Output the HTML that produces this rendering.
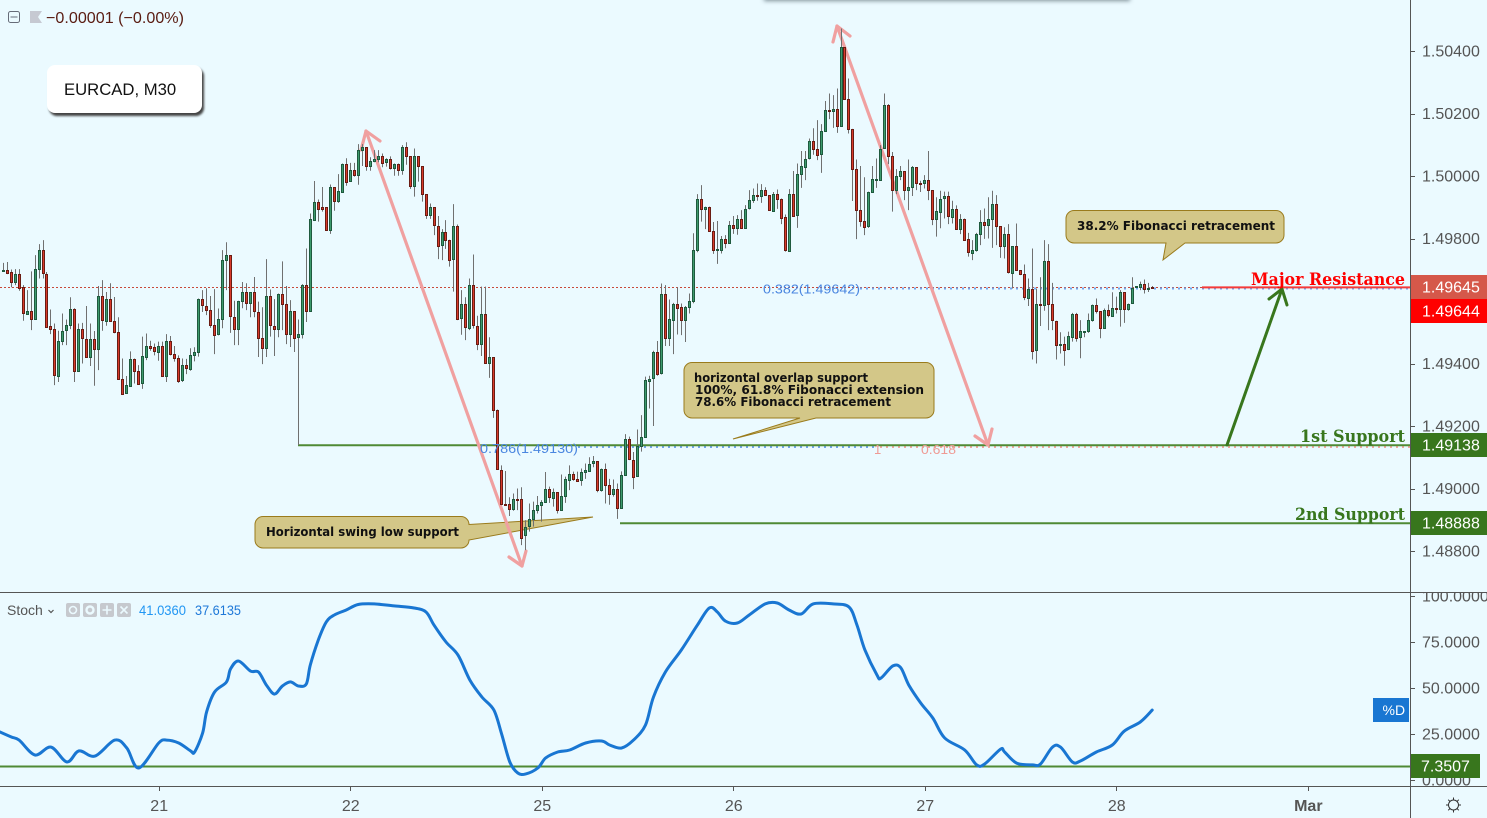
<!DOCTYPE html>
<html lang="en">
<head>
<meta charset="utf-8">
<title>EURCAD, M30</title>
<style>
html,body{margin:0;padding:0;background:#ebfaff;width:1487px;height:818px;overflow:hidden}
#chart{position:absolute;left:0;top:0;display:block}
#symbol-box{position:absolute;left:47px;top:65px;width:155px;height:48px;background:#fff;border-radius:8px;box-shadow:2px 3px 2px #444;font:16.7px/49px "Liberation Sans",sans-serif;color:#111;text-indent:17px}
#top-strip{position:absolute;left:764px;top:-10px;width:366px;height:10px;background:#fff;box-shadow:0 1px 4px rgba(40,60,70,.55)}
</style>
</head>
<body>
<svg id="chart" width="1487" height="818" viewBox="0 0 1487 818" xmlns="http://www.w3.org/2000/svg" font-family="Liberation Sans, sans-serif">
  <rect x="0" y="0" width="1487" height="818" fill="#ebfaff"/>

  <g>
    <path d="M263 516.5H461a8 8 0 0 1 8 8L593 517L469 540a8 8 0 0 1-8 8H263a8 8 0 0 1-8-8V524.5a8 8 0 0 1 8-8Z" fill="#d3c788" stroke="#9a7b1c" stroke-width="1"/>
    <text x="266" y="536" font-family="DejaVu Sans, sans-serif" font-weight="bold" font-size="12.5" fill="#111" textLength="193" lengthAdjust="spacingAndGlyphs">Horizontal swing low support</text>
  </g>
  <g id="price-lines">
    <line x1="0" y1="287.5" x2="1410" y2="287.5" stroke="#c8493a" stroke-width="1" stroke-dasharray="2 2"/>
    <line x1="860" y1="288.5" x2="1410" y2="288.5" stroke="#6fa3ec" stroke-width="2" stroke-dasharray="2 4"/>
    <line x1="578" y1="447" x2="875" y2="447" stroke="#6fa3ec" stroke-width="2" stroke-dasharray="2 4"/>
    <line x1="880" y1="447" x2="1410" y2="447" stroke="#f0a6a0" stroke-width="2" stroke-dasharray="2 4"/>
    <line x1="298" y1="445.2" x2="1410" y2="445.2" stroke="#4f8a35" stroke-width="2"/>
    <line x1="620" y1="523.2" x2="1410" y2="523.2" stroke="#4f8a35" stroke-width="2"/>
    <line x1="1202" y1="287.4" x2="1410" y2="287.4" stroke="#f53a3a" stroke-width="2"/>
  </g>
  <g fill="none" stroke="#f0a0a0" stroke-width="3.2" stroke-linecap="round" stroke-linejoin="round">
    <g>
      <line x1="366" y1="131" x2="522" y2="566"/>
      <polyline points="361,150 366,131 380,141"/>
      <polyline points="509,557 522,566 526,551"/>
    </g>
    <g>
      <line x1="837" y1="26" x2="988" y2="445"/>
      <polyline points="833,42 837,26 850,36"/>
      <polyline points="975,436 988,445 992,429"/>
    </g>
  </g>
  <g id="candles"></g>

  <g fill="none" stroke="#38761d" stroke-width="3" stroke-linecap="round" stroke-linejoin="round">
    <line x1="1227" y1="445" x2="1282" y2="289"/>
    <polyline points="1269,299 1282,289 1287,305"/>
  </g>

  <g font-size="13">
    <text x="763" y="293.5" fill="#4a86e0" textLength="97" lengthAdjust="spacingAndGlyphs">0.382(1.49642)</text>
    <text x="480" y="453" fill="#4a86e0" textLength="98" lengthAdjust="spacingAndGlyphs">0.786(1.49130)</text>
    <text x="874" y="454" fill="#ef9a94">1</text>
    <text x="921" y="454" fill="#ef9a94" textLength="35" lengthAdjust="spacingAndGlyphs">0.618</text>
  </g>

  <g>
    <path d="M1074 210.5H1276a8 8 0 0 1 8 8V235a8 8 0 0 1-8 8H1185L1163 260L1166 243H1074a8 8 0 0 1-8-8V218.5a8 8 0 0 1 8-8Z" fill="#d3c788" stroke="#9a7b1c" stroke-width="1"/>
    <text x="1077" y="230" font-family="DejaVu Sans, sans-serif" font-weight="bold" font-size="12.5" fill="#111" textLength="198" lengthAdjust="spacingAndGlyphs">38.2% Fibonacci retracement</text>
  </g>
  <g>
    <path d="M692 362.5H926a8 8 0 0 1 8 8V410a8 8 0 0 1-8 8H816L733 439L800 418H692a8 8 0 0 1-8-8V370.5a8 8 0 0 1 8-8Z" fill="#d3c788" stroke="#9a7b1c" stroke-width="1"/>
    <g font-family="DejaVu Sans, sans-serif" font-weight="bold" font-size="12.5" fill="#111">
      <text x="694" y="382" textLength="174" lengthAdjust="spacingAndGlyphs">horizontal overlap support</text>
      <text x="695" y="394" textLength="229" lengthAdjust="spacingAndGlyphs">100%, 61.8% Fibonacci extension</text>
      <text x="695" y="406" textLength="196" lengthAdjust="spacingAndGlyphs">78.6% Fibonacci retracement</text>
    </g>
  </g>

  <g font-family="DejaVu Serif, Liberation Serif, serif" font-weight="bold" font-size="17">
    <text x="1251" y="285" fill="#ff0000" textLength="154" lengthAdjust="spacingAndGlyphs">Major Resistance</text>
    <text x="1300" y="442" fill="#38761d" textLength="105" lengthAdjust="spacingAndGlyphs">1st Support</text>
    <text x="1295" y="520" fill="#38761d" textLength="110" lengthAdjust="spacingAndGlyphs">2nd Support</text>
  </g>

  <g>
    <rect x="8.5" y="11.5" width="11" height="11" rx="2" fill="none" stroke="#666c78"/>
    <line x1="10.5" y1="17" x2="17.5" y2="17" stroke="#666c78"/>
    <path d="M30 11H42L38 17L42 23H30Z" fill="#c6c9d2"/>
    <text x="46" y="23" font-size="16" fill="#5a1c12" textLength="138" lengthAdjust="spacingAndGlyphs">−0.00001 (−0.00%)</text>
  </g>

  <line x1="0" y1="592.5" x2="1487" y2="592.5" stroke="#555"/>
  <line x1="0" y1="786.5" x2="1487" y2="786.5" stroke="#555"/>
  <line x1="1410.5" y1="0" x2="1410.5" y2="818" stroke="#555"/>

  <line x1="0" y1="766.5" x2="1410" y2="766.5" stroke="#4f8a35" stroke-width="2"/>
  <path id="stoch-line" fill="none" stroke="#1976d2" stroke-width="3" stroke-linejoin="round" stroke-linecap="round"/>

  <g>
    <text x="7" y="615" font-size="14" fill="#555">Stoch</text>
    <polyline points="48.5,610 51,612.5 53.5,610" fill="none" stroke="#555" stroke-width="1.2"/>
    <g fill="#c6c9ce">
      <rect x="66" y="603" width="14" height="14" rx="2"/>
      <rect x="83" y="603" width="14" height="14" rx="2"/>
      <rect x="100" y="603" width="14" height="14" rx="2"/>
      <rect x="117" y="603" width="14" height="14" rx="2"/>
    </g>
    <g fill="none" stroke="#ebfaff" stroke-width="1.6">
      <circle cx="73" cy="610" r="3.5"/>
      <circle cx="90" cy="610" r="3.5" stroke-width="2.4"/>
      <path d="M107 605.5V614.5M102.5 610H111.5"/>
      <path d="M120.5 606.5L127.5 613.5M127.5 606.5L120.5 613.5"/>
    </g>
    <text x="139" y="615" font-size="13.5" fill="#2196f3" textLength="47" lengthAdjust="spacingAndGlyphs">41.0360</text>
    <text x="195" y="615" font-size="13.5" fill="#1e78d8" textLength="46" lengthAdjust="spacingAndGlyphs">37.6135</text>
  </g>

  <g id="price-axis" font-size="16" fill="#555"></g>
  <clipPath id="stoch-clip"><rect x="1411" y="593" width="76" height="193"/></clipPath>
  <g id="stoch-axis" font-size="16" fill="#555" clip-path="url(#stoch-clip)"></g>
  <g id="time-axis" font-size="16" fill="#555"></g>

  <g>
    <rect x="1411" y="275" width="76" height="24" fill="#d5584a"/>
    <text x="1422" y="292.5" font-size="16" fill="#fff">1.49645</text>
    <rect x="1411" y="299" width="76" height="24" fill="#ff0000"/>
    <text x="1422" y="316.5" font-size="16" fill="#fff">1.49644</text>
    <rect x="1411" y="433" width="76" height="24" fill="#38761d"/>
    <text x="1422" y="450.5" font-size="16" fill="#fff">1.49138</text>
    <rect x="1411" y="511" width="76" height="24" fill="#38761d"/>
    <text x="1422" y="528.5" font-size="16" fill="#fff">1.48888</text>
    <rect x="1411" y="754" width="69" height="24" fill="#38761d"/>
    <text x="1421" y="771.5" font-size="16" fill="#fff">7.3507</text>
    <rect x="1373" y="698" width="36" height="24" fill="#1976d2"/>
    <text x="1382.5" y="715" font-size="14" fill="#fff">%D</text>
  </g>

  <g fill="none" stroke="#333" stroke-width="1">
    <circle cx="1453.5" cy="805" r="5"/>
    <path d="M1453.5 797.5V800M1453.5 810V812.5M1446 805H1448.5M1458.5 805H1461M1448.2 799.7L1450 801.5M1457 808.5L1458.8 810.3M1458.8 799.7L1457 801.5M1450 808.5L1448.2 810.3"/>
  </g>
</svg>
<div id="top-strip"></div>
<div id="symbol-box">EURCAD, M30</div>

<script>
// OHLC values in price points (1 point = 0.00001)
const opens = [149697,149698,149693,149662,149688,149644,149559,149567,149541,149701,
149762,149688,149519,149509,149362,149473,149505,149522,149573,149374,
149509,149480,149422,149480,149447,149615,149537,149608,149537,149502,
149351,149304,149330,149416,149377,149336,149423,149457,149452,149438,
149457,149362,149473,149430,149418,149345,149394,149383,149428,149436,
149605,149585,149572,149524,149492,149541,149730,149746,149550,149511,
149599,149628,149594,149628,149566,149482,149450,149615,149521,149511,
149624,149591,149495,149567,149482,149493,149650,149566,149860,149916,
149900,149900,149828,149964,149918,149951,150040,149982,150018,150001,
150082,150092,150030,150047,150053,150063,150042,150053,150023,150037,
150018,150092,150063,149966,150063,150031,149941,149873,149900,149841,
149777,149820,149796,149732,149839,149543,149589,149514,149650,149521,
149463,149560,149402,149420,149250,149060,148951,148949,148932,148966,
148965,148851,148878,148901,148929,148945,148956,148997,148970,148988,
148929,148975,149029,149048,149032,149025,149052,149059,149080,149087,
148993,149061,149010,148980,148997,148935,149042,149157,149092,149038,
149135,149164,149346,149352,149436,149367,149621,149479,149541,149592,
149580,149537,149580,149600,149761,149925,149893,149900,149823,149762,
149764,149800,149786,149842,149834,149864,149834,149896,149922,149938,
149934,149954,149938,149889,149944,149928,149868,149761,149944,149874,
150005,150031,150056,150111,150087,150068,150143,150210,150206,150213,
150158,150412,150247,150151,150023,149892,149857,149838,149948,149988,
149988,150087,150226,150063,149953,149999,150015,149953,149964,150028,
149979,149975,149986,149954,149860,149887,149928,149935,149870,149896,
149832,149864,149797,149754,149761,149813,149852,149841,149861,149909,
149839,149775,149813,149690,149775,149698,149685,149612,149640,149442,
149589,149586,149727,149589,149537,149461,149464,149445,149486,149560,
149484,149502,149502,149538,149586,149567,149514,149570,149554,149578,
149576,149629,149576,149592,149645,149645,149653,149638,149645];
const highs = [149722,149725,149701,149702,149702,149651,149635,149695,149747,149782,
149795,149693,149573,149528,149505,149560,149541,149612,149577,149528,
149530,149584,149528,149504,149648,149667,149629,149657,149613,149548,
149416,149360,149439,149416,149395,149486,149496,149473,149464,149470,
149470,149494,149488,149456,149426,149416,149415,149449,149452,149608,
149635,149641,149616,149638,149576,149763,149788,149746,149601,149601,
149661,149657,149628,149677,149598,149580,149734,149637,149606,149624,
149727,149648,149603,149567,149541,149654,149768,149880,149984,149925,
149965,149900,149973,149964,150006,150040,150057,150042,150042,150102,
150102,150092,150060,150083,150083,150072,150057,150063,150040,150040,
150099,150108,150063,150088,150063,150031,149941,149912,149900,149872,
149830,149859,149796,149910,149845,149635,149612,149672,149749,149553,
149646,149646,149484,149420,149253,149074,149056,148972,148984,149000,
149004,148899,148952,148958,148976,148963,149053,149006,149000,148988,
149045,149038,149074,149054,149054,149064,149080,149100,149104,149087,
149064,149080,149031,149029,149016,149055,149174,149166,149117,149189,
149235,149358,149361,149441,149472,149656,149651,149605,149594,149644,
149592,149584,149624,149817,149942,149971,149902,149902,149853,149856,
149808,149811,149856,149872,149875,149891,149907,149955,149960,149976,
149974,149964,149938,149949,149957,149928,149877,149958,150016,150040,
150080,150080,150120,150153,150179,150166,150240,150264,150259,150280,
150472,150412,150312,150151,150053,150032,149996,149950,150032,150056,
150099,150264,150230,150077,150022,150032,150015,150053,150032,150028,
149985,150003,150080,149954,149932,149953,149950,149950,149921,149906,
149878,149864,149818,149795,149818,149891,149896,149932,149953,149939,
149839,149836,149846,149775,149848,149698,149717,149672,149768,149640,
149676,149795,149782,149658,149537,149500,149486,149502,149562,149562,
149539,149503,149560,149589,149608,149567,149576,149589,149628,149614,
149635,149629,149592,149676,149648,149662,149669,149658,149648];
const lows = [149697,149686,149644,149651,149633,149537,149559,149507,149541,149672,
149672,149518,149494,149331,149341,149459,149459,149510,149341,149374,
149400,149420,149392,149329,149379,149505,149521,149537,149497,149351,
149304,149304,149326,149336,149334,149319,149411,149441,149426,149409,
149358,149341,149426,149406,149338,149341,149366,149377,149407,149422,
149565,149555,149514,149430,149490,149513,149635,149498,149459,149459,
149577,149571,149548,149548,149421,149398,149421,149486,149424,149484,
149507,149462,149453,149437,149139,149480,149533,149566,149860,149854,
149886,149828,149815,149889,149914,149950,149969,149982,149998,149972,
150032,150017,150017,150044,150044,150028,150030,150021,150001,150001,
150004,150036,149959,149934,149982,149918,149863,149863,149811,149734,
149731,149767,149710,149630,149539,149492,149475,149507,149512,149443,
149424,149402,149354,149226,149060,148947,148947,148912,148929,148931,
148819,148803,148862,148878,148920,148894,148954,148954,148942,148920,
148929,148954,148995,149025,149021,149009,149031,149054,149068,148988,
148990,148952,148948,148974,148903,148935,149040,149091,148998,149038,
149118,149164,149256,149200,149361,149365,149456,149456,149430,149493,
149491,149469,149560,149593,149756,149854,149830,149823,149751,149719,
149752,149769,149786,149815,149812,149834,149834,149893,149914,149921,
149914,149938,149889,149886,149895,149846,149758,149761,149874,149834,
149962,149987,150053,150068,150051,150010,150142,150182,150154,150138,
150158,150247,150136,149920,149798,149838,149811,149834,149946,149962,
149986,150087,150038,149886,149942,149987,149923,149891,149936,149955,
149949,149960,149923,149843,149806,149833,149864,149846,149848,149829,
149814,149795,149742,149731,149758,149779,149799,149800,149770,149779,
149738,149736,149688,149640,149697,149683,149603,149584,149413,149400,
149520,149569,149507,149507,149413,149432,149393,149443,149470,149470,
149417,149484,149498,149534,149560,149481,149512,149548,149553,149560,
149518,149530,149569,149592,149644,149635,149624,149629,149640];
const closes = [149699,149690,149662,149688,149644,149560,149567,149541,149701,149762,
149688,149518,149509,149362,149473,149505,149522,149573,149374,149509,
149480,149422,149480,149447,149615,149537,149608,149537,149502,149351,
149304,149330,149416,149377,149336,149423,149457,149452,149438,149457,
149362,149473,149430,149418,149345,149394,149383,149428,149436,149605,
149585,149572,149524,149492,149541,149730,149746,149550,149511,149599,
149628,149594,149628,149566,149482,149450,149615,149521,149511,149624,
149591,149495,149567,149482,149493,149650,149566,149861,149916,149895,
149895,149828,149964,149918,149951,150040,149982,150018,150001,150082,
150092,150030,150047,150053,150063,150042,150053,150023,150037,150018,
150092,150063,149966,150063,150031,149941,149873,149900,149841,149777,
149820,149796,149732,149839,149543,149589,149514,149650,149521,149463,
149560,149402,149420,149249,149060,148951,148947,148932,148965,148964,
148840,148878,148901,148930,148946,148956,148997,148970,148988,148929,
148975,149029,149048,149031,149025,149052,149059,149080,149087,148993,
149061,149010,148980,148997,148935,149042,149157,149092,149038,149135,
149164,149346,149352,149436,149367,149621,149479,149541,149592,149580,
149537,149580,149599,149763,149925,149893,149900,149823,149762,149765,
149800,149786,149842,149834,149864,149834,149896,149922,149938,149934,
149954,149938,149889,149944,149928,149868,149761,149944,149874,150005,
150031,150056,150111,150087,150068,150143,150210,150206,150213,150158,
150412,150247,150151,150023,149892,149857,149838,149948,149989,149990,
150088,150226,150063,149953,149999,150015,149953,149964,150029,149978,
149975,149986,149954,149860,149887,149928,149935,149870,149896,149832,
149864,149797,149754,149762,149813,149852,149841,149861,149909,149839,
149775,149813,149690,149775,149698,149685,149612,149640,149442,149589,
149586,149727,149589,149537,149461,149464,149445,149487,149560,149484,
149503,149503,149538,149586,149567,149514,149570,149554,149578,149576,
149629,149576,149592,149641,149648,149653,149638,149641,149644];

// Stochastic %D readings, with the bar each one was read at
const stochBars = [-1,2,4,8,12,16,19,23,28,31,34,39,41,44,47,48,50,51,53,56,57,59,62,64,66,68,70,72,74,76,77,79,81,83,86,89,93,98,103,106,108,111,114,117,120,123,125,127,129,131,134,136,139,142,146,150,152,155,158,161,163,166,170,174,177,179,181,184,187,191,194,197,200,203,208,212,214,216,219,220,223,225,227,230,233,236,241,244,246,250,251,254,258,260,263,265,268,270,274,278,281,285,288];
const stochD = [26.3,23.4,21.7,13.6,17.9,9.8,15.8,13.0,21.7,17.4,6.5,20.1,21.7,20.1,15.8,15.2,25.5,37.0,47.8,53.3,60.3,64.7,59.2,58.7,51.6,46.7,51.1,53.3,51.1,52.2,62.5,76.1,85.9,89.7,92.4,95.4,95.7,94.6,93.5,91.3,84.2,75.0,67.9,54.3,45.1,38.0,24.5,9.8,3.8,3.3,6.5,12.0,15.2,16.3,20.1,21.2,19.0,17.4,21.7,29.9,45.1,58.7,70.7,84.2,93.5,91.3,86.4,85.3,89.7,95.7,96.2,92.4,90.2,95.7,95.7,94.0,84.2,70.7,57.1,55.4,62.0,60.9,51.6,41.8,33.7,22.8,16.3,8.2,8.7,16.8,15.2,9.2,8.2,8.7,17.9,17.9,9.8,10.3,15.2,19.0,26.6,31.5,38.0];

// Axis ticks
const priceTicks = [150400,150200,150000,149800,149600,149400,149200,149000,148800];
const stochTicks = [100,75,50,25,0];
const timeLabels = ["21","22","25","26","27","28","Mar"];
const timeBars = [39,87,135,183,231,279,327];

const NS = "http://www.w3.org/2000/svg";
function xBar(i) { return 3.1 + 3.99 * i; }
function yPrice(p) { return 51 + (150400 - p) / 3.2; }
function yStoch(v) { return 780 - v * 1.84; }

const candleGroup = document.getElementById("candles");
opens.forEach(function (open, i) {
  const close = closes[i];
  const up = close >= open;
  const cx = Math.floor(xBar(i));
  const wick = document.createElementNS(NS, "line");
  wick.setAttribute("x1", cx + 0.5);
  wick.setAttribute("x2", cx + 0.5);
  wick.setAttribute("y1", yPrice(highs[i]));
  wick.setAttribute("y2", yPrice(lows[i]));
  wick.setAttribute("stroke", "#707070");
  wick.setAttribute("stroke-width", "1");
  
  
  candleGroup.appendChild(wick);
  const top = yPrice(Math.max(open, close));
  const bottom = yPrice(Math.min(open, close));
  const body = document.createElementNS(NS, "rect");
  body.setAttribute("x", cx - 0.5);
  body.setAttribute("y", Math.round(top) + 0.5);
  body.setAttribute("width", "2");
  body.setAttribute("height", Math.max(Math.round(bottom - top), 1));
  body.setAttribute("fill", up ? "#3d9a6d" : "#d83a2b");
  body.setAttribute("stroke", up ? "#1f5a3e" : "#6a1c13");
  body.setAttribute("stroke-width", "1");
  
  
  candleGroup.appendChild(body);
});

// Smooth curve through the %D readings (Catmull-Rom to Bezier)
const stochPts = stochBars.map(function (b, i) { return [xBar(b), yStoch(stochD[i])]; });
let stochPath = "M" + stochPts[0][0].toFixed(1) + " " + stochPts[0][1].toFixed(1);
for (let i = 0; i < stochPts.length - 1; i++) {
  const p0 = stochPts[Math.max(i - 1, 0)];
  const p1 = stochPts[i];
  const p2 = stochPts[i + 1];
  const p3 = stochPts[Math.min(i + 2, stochPts.length - 1)];
  const c1x = p1[0] + (p2[0] - p0[0]) / 6;
  const c1y = p1[1] + (p2[1] - p0[1]) / 6;
  const c2x = p2[0] - (p3[0] - p1[0]) / 6;
  const c2y = p2[1] - (p3[1] - p1[1]) / 6;
  stochPath += "C" + c1x.toFixed(1) + " " + c1y.toFixed(1) + " " + c2x.toFixed(1) + " " + c2y.toFixed(1) + " " + p2[0].toFixed(1) + " " + p2[1].toFixed(1);
}
document.getElementById("stoch-line").setAttribute("d", stochPath);

const priceAxis = document.getElementById("price-axis");
priceTicks.forEach(function (p) {
  const y = yPrice(p);
  const tick = document.createElementNS(NS, "line");
  tick.setAttribute("x1", 1410);
  tick.setAttribute("x2", 1415);
  tick.setAttribute("y1", Math.round(y) + 0.5);
  tick.setAttribute("y2", Math.round(y) + 0.5);
  tick.setAttribute("stroke", "#555");
  
  
  priceAxis.appendChild(tick);
  const label = document.createElementNS(NS, "text");
  label.setAttribute("x", 1422);
  label.setAttribute("y", y + 5.5);
  label.textContent = (p / 100000).toFixed(5);
  
  
  priceAxis.appendChild(label);
});

const stochAxis = document.getElementById("stoch-axis");
stochTicks.forEach(function (v) {
  const y = yStoch(v);
  const tick = document.createElementNS(NS, "line");
  tick.setAttribute("x1", 1410);
  tick.setAttribute("x2", 1415);
  tick.setAttribute("y1", Math.round(y) + 0.5);
  tick.setAttribute("y2", Math.round(y) + 0.5);
  tick.setAttribute("stroke", "#555");
  
  
  stochAxis.appendChild(tick);
  const label = document.createElementNS(NS, "text");
  label.setAttribute("x", 1422);
  label.setAttribute("y", y + 5.5);
  label.textContent = v.toFixed(4);
  
  
  stochAxis.appendChild(label);
});

const timeAxis = document.getElementById("time-axis");
timeLabels.forEach(function (name, i) {
  const x = xBar(timeBars[i]);
  const tick = document.createElementNS(NS, "line");
  tick.setAttribute("x1", Math.round(x) + 0.5);
  tick.setAttribute("x2", Math.round(x) + 0.5);
  tick.setAttribute("y1", 787);
  tick.setAttribute("y2", 791);
  tick.setAttribute("stroke", "#555");
  
  
  timeAxis.appendChild(tick);
  const label = document.createElementNS(NS, "text");
  label.setAttribute("x", x + 0.5);
  label.setAttribute("y", 811);
  label.setAttribute("text-anchor", "middle");
  if (name === "Mar") { label.setAttribute("font-weight", "bold"); }
  label.textContent = name;
  
  
  timeAxis.appendChild(label);
});
</script>
</body>
</html>
